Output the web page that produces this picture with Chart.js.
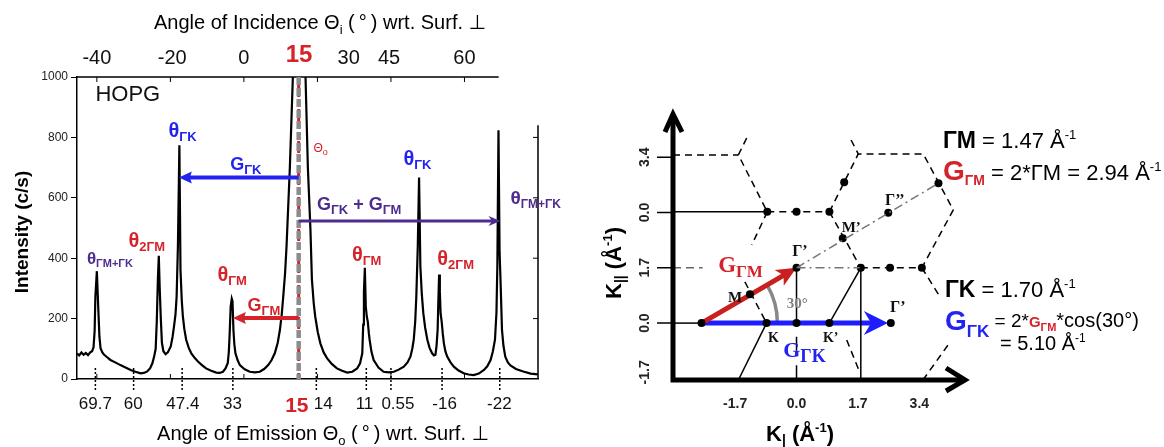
<!DOCTYPE html>
<html>
<head>
<meta charset="utf-8">
<script src="https://cdn.jsdelivr.net/npm/chart.js@4.4.1/dist/chart.umd.min.js"></script>
<style>
  html, body { margin: 0; padding: 0; background: #fff; }
  #wrap { position: relative; width: 1164px; height: 447px; overflow: hidden; }
  #left { position: absolute; left: 0; top: 0; }
  #right { position: absolute; left: 600px; top: 0; }
</style>
</head>
<body>
<div id="wrap">
  <canvas id="left" width="600" height="447"></canvas>
  <canvas id="right" width="564" height="447"></canvas>
</div>
<script>
// ---- spectrum (angle of incidence scale, counts/s) ----
const angleIn = [-45.4, -44.8, -44.2, -43.6, -43.0, -42.4, -41.8, -41.3, -40.9, -40.6, -40.4, -40.0, -39.6, -39.3, -39.0,
  -38.5, -38.0, -37.2, -36.3, -35.0, -33.6, -32.2, -30.8, -29.5, -28.1, -27.2, -26.3, -25.5, -24.9, -24.4, -24.0,
  -23.7, -23.4, -23.15, -22.9, -22.6, -22.3, -21.9, -21.3, -20.7, -19.9, -19.4, -19.0, -18.6, -18.3, -17.95, -17.55,
  -17.25, -16.9, -16.6, -16.2, -15.7, -15.0, -14.3, -13.4, -12.5, -11.4, -10.3, -8.9, -7.5, -6.6, -5.7, -5.0, -4.4,
  -4.1, -3.9, -3.6, -3.3, -3.1, -2.85, -2.6, -2.3, -1.7, -1.1, 0.2, 1.6, 3.0, 4.3, 5.5, 6.6, 7.5, 8.4, 9.2, 9.8, 10.3,
  10.7, 11.2, 11.6, 12.5, 13.4, 15.0, 16.7, 17.4, 18.1, 18.5, 19.0, 19.4, 20.1, 20.8, 21.7, 22.6, 23.9, 25.3, 26.7,
  28.1, 29.5, 30.8, 31.6, 32.2, 32.45, 32.65, 32.9, 33.15, 33.45, 33.7, 34.0, 34.2, 34.7, 35.3, 36.6, 38.0, 39.4,
  40.8, 42.1, 43.5, 44.5, 45.3, 45.8, 46.2, 46.6, 46.9, 47.3, 47.65, 48.0, 48.4, 48.8, 49.3, 49.9, 50.5, 51.2, 51.7,
  52.1, 52.4, 52.7, 52.9, 53.1, 53.3, 53.5, 53.8, 54.1, 54.4, 54.8, 55.3, 56.2, 57.1, 58.4, 59.8, 61.1, 62.5, 63.9,
  65.3, 66.2, 67.1, 67.7, 68.3, 68.7, 68.95, 69.25, 69.55, 69.8, 70.2, 70.6, 71.1, 71.8, 72.5, 74.0, 76.0, 78.0, 80.0];
const counts = [84, 78, 88, 80, 86, 79, 88, 92, 105, 160, 273, 357, 230, 140, 102,
  88, 80, 72, 63, 55, 46, 38, 30, 24, 19, 20, 25, 36, 52, 75, 100,
  190, 330, 408, 300, 200, 120, 92, 82, 88, 108, 140, 175, 215, 273, 440, 774,
  362, 260, 207, 165, 130, 103, 85, 70, 58, 46, 35, 27, 21, 20, 24, 35, 52,
  90, 141, 240, 266, 258, 163, 115, 85, 62, 46, 32, 24, 22, 24, 33, 46, 62, 85, 120, 163, 215,
  273, 350, 440, 700, 1030, 1500, 1030, 700, 495, 329, 250, 207, 155, 118, 88, 69, 50, 35, 27,
  21, 24, 35, 52, 85, 180, 290, 368, 240, 205, 190, 150, 130, 90, 63, 38, 24, 22,
  24, 31, 41, 55, 74, 100, 130, 190, 273, 440, 667, 373, 280, 218, 170, 130, 103, 85, 78,
  80, 110, 163, 260, 346, 290, 218, 190, 150, 118, 92, 74, 55, 41, 28, 19, 15, 13, 18,
  30, 42, 63, 90, 130, 220, 380, 824, 420, 329, 163, 110, 74, 55, 45, 33, 25, 18, 15];

const yTicks = [0, 200, 400, 600, 800, 1000];
const incLabelPos = [-40, -19.5, 0, 15, 28.5, 39.5, 60];
const incLabels = ['-40', '-20', '0', '15', '30', '45', '60'];
const frameTicks = [-40, -20, 0, 20, 40, 60];
const emiLabelPos = [-40.4, -30.1, -16.6, -3.1, 14.4, 21.6, 32.8, 41.9, 54.6, 69.5];
const emiLabels = ['69.7', '60', '47.4', '33', '15', '14', '11', '0.55', '-16', '-22'];
const emiLinePos = [-40.4, -30, -16.8, -3, 19.7, 33.3, 40, 53.9, 69.6];
const specular = 14.9;

// ---- reciprocal lattice (Å^-1) ----
const kxTicks = [-1.7, 0, 1.7, 3.4];
const kxLabels = ['-1.7', '0.0', '1.7', '3.4'];
const kyTicks = [-1.7, 0, 1.7, 3.4, 5.1];
const kyLabels = ['-1.7', '0.0', '1.7', '0.0', '3.4'];

const S = [-2.63, 0], M = [-1.29, 0.89], G1 = [0, 1.7], K = [-0.83, 0], O = [0, 0], K1 = [0.91, 0], G2 = [2.61, 0];
const V1 = [-0.81, 3.42], D1 = [0, 3.42], V2 = [0.91, 3.42], D2 = [1.32, 4.33], V3 = [1.71, 5.2], V4 = [3.51, 5.2];
const D3 = [3.93, 4.3], V5 = [4.34, 3.48], M1 = [1.28, 2.61], V6 = [1.78, 1.7], D4 = [2.59, 1.7], V7 = [3.47, 1.7];
const G3 = [2.54, 3.39], V8 = [-1.61, 5.17];
const X0 = -3.42, Y0 = -1.75;

const solidLines = [
  [[X0, 3.42], V1], [[X0, 0], S], [K, [-1.61, Y0]], [K1, V6], [V6, [1.78, Y0]], [G1, O],
  [[0, -0.42], [0, -0.85]], [[0, -1.3], [0, Y0]]
];
const dashedLines = [
  [[X0, 5.17], V8], [[-1.38, 5.69], V8, V1], [V1, V2], [V1, [-1.24, 2.4]], [[-1.43, 1.27], K],
  [V2, V3], [[1.51, 5.63], V3, V4, V5, V7], [V2, V6], [V6, V7], [V7, [3.97, 0.81]],
  [[4.19, -0.68], [3.5, Y0]], [[1.39, -0.52], [1.76, -1.54]]
];
const dashDotLines = [[G1, V6], [G1, D3]];
const grayDashLines = [[[X0, 1.7], [-2.6, 1.7]]];
const latticeDots = [S, M, G1, K, O, K1, G2, V1, D1, V2, D2, D3, M1, G3, V6, D4, V7];
const arcRadius = 2.1;
const blueTip = [2.53, 0];

const SANS = '"Liberation Sans", Arial, sans-serif';
const SERIF = '"Liberation Serif", "Times New Roman", serif';
const RED = '#d5232a', BLUE = '#2323f0', PURPLE = '#4d2c8d', GRAY = '#8c8c8c';

function fontOf(r) { return (r[2] || 'normal') + ' ' + r[1] + 'px ' + (r[5] || SANS); }
function runsWidth(ctx, runs) {
  let w = 0;
  runs.forEach(r => { ctx.font = fontOf(r); w += ctx.measureText(r[0]).width; });
  return w;
}
function drawRuns(ctx, x, y, runs) {
  ctx.textAlign = 'left';
  ctx.textBaseline = 'alphabetic';
  runs.forEach(r => {
    ctx.font = fontOf(r);
    ctx.fillStyle = r[3] || '#000';
    ctx.fillText(r[0], x, y + (r[4] || 0));
    x += ctx.measureText(r[0]).width;
  });
  return x;
}
function arrow(ctx, x1, y1, x2, y2, color, w, len, half, barb) {
  const ang = Math.atan2(y2 - y1, x2 - x1);
  const back = len * (1 - barb) - 1;
  ctx.save();
  ctx.strokeStyle = color; ctx.fillStyle = color; ctx.lineWidth = w; ctx.lineCap = 'butt';
  ctx.beginPath();
  ctx.moveTo(x1, y1);
  ctx.lineTo(x2 - Math.cos(ang) * back, y2 - Math.sin(ang) * back);
  ctx.stroke();
  ctx.translate(x2, y2); ctx.rotate(ang);
  ctx.beginPath();
  ctx.moveTo(0, 0); ctx.lineTo(-len, -half); ctx.lineTo(-len * (1 - barb), 0); ctx.lineTo(-len, half);
  ctx.closePath(); ctx.fill();
  ctx.restore();
}

// annotations of the spectrum (anchor = left/baseline in data units)
const leftNotes = [
  { at: [-40.4, 921], runs: [['HOPG', 22, 'normal', '#111']] },
  { at: [-42.7, 382], runs: [['θ', 17, 'bold', PURPLE], ['ΓM+ΓK', 11, 'bold', PURPLE, 3]] },
  { at: [-31.4, 438], runs: [['θ', 20, 'bold', RED], ['2ΓM', 13, 'bold', RED, 4]] },
  { at: [-20.5, 800], runs: [['θ', 20, 'bold', BLUE], ['ΓK', 13, 'bold', BLUE, 4]] },
  { at: [-7.2, 326], runs: [['θ', 20, 'bold', RED], ['ΓM', 13, 'bold', RED, 4]] },
  { at: [29.4, 392], runs: [['θ', 20, 'bold', RED], ['ΓM', 13, 'bold', RED, 4]] },
  { at: [43.4, 708], runs: [['θ', 20, 'bold', BLUE], ['ΓK', 13, 'bold', BLUE, 4]] },
  { at: [52.6, 379], runs: [['θ', 20, 'bold', RED], ['2ΓM', 13, 'bold', RED, 4]] },
  { at: [72.5, 578], runs: [['θ', 19, 'bold', PURPLE], ['ΓM+ΓK', 12, 'bold', PURPLE, 4]] },
  { at: [-3.7, 691], runs: [['G', 18, 'bold', BLUE], ['ΓK', 13, 'bold', BLUE, 4]] },
  { at: [1.0, 226], runs: [['G', 18, 'bold', RED], ['ΓM', 13, 'bold', RED, 4]] },
  { at: [19.9, 561], runs: [['G', 18, 'bold', PURPLE], ['ΓK', 13, 'bold', PURPLE, 4], [' + ', 18, 'bold', PURPLE],
    ['G', 18, 'bold', PURPLE], ['ΓM', 13, 'bold', PURPLE, 4]] },
  { at: [18.9, 751], runs: [['Θ', 12, 'normal', RED], ['o', 9, 'normal', RED, 3]] }
];
const leftArrows = [
  { from: [specular, 667], to: [-17.7, 667], color: BLUE, w: 4, len: 13, half: 6, barb: 0.15 },
  { from: [specular, 523], to: [69.8, 523], color: PURPLE, w: 3, len: 12, half: 5, barb: 0.3 },
  { from: [specular, 202], to: [-3.0, 202], color: RED, w: 4, len: 13, half: 6, barb: 0.15 }
];

const leftDecor = {
  id: 'leftDecor',
  afterDatasetsDraw(chart) {
    const { ctx, chartArea: a, scales: { x, y } } = chart;
    ctx.save();
    // partial top / right frame and inward ticks
    ctx.strokeStyle = '#000'; ctx.lineWidth = 1.5;
    ctx.beginPath();
    ctx.moveTo(a.left, a.top); ctx.lineTo(x.getPixelForValue(69.3), a.top);
    ctx.moveTo(a.right, y.getPixelForValue(840)); ctx.lineTo(a.right, a.bottom);
    ctx.stroke();
    ctx.lineWidth = 1;
    ctx.beginPath();
    frameTicks.forEach(v => {
      const px = x.getPixelForValue(v);
      ctx.moveTo(px, a.top); ctx.lineTo(px, a.top + 5);
      ctx.moveTo(px, a.bottom); ctx.lineTo(px, a.bottom - 5);
    });
    [200, 400, 600, 800].forEach(v => {
      const py = y.getPixelForValue(v);
      ctx.moveTo(a.right, py); ctx.lineTo(a.right - 5, py);
    });
    ctx.stroke();
    // dotted markers below peaks
    ctx.setLineDash([2, 2]); ctx.lineWidth = 1.5;
    ctx.beginPath();
    emiLinePos.forEach(v => {
      const px = x.getPixelForValue(v);
      ctx.moveTo(px, a.bottom - 11); ctx.lineTo(px, a.bottom + 11);
    });
    ctx.stroke();
    // specular line
    const sx = x.getPixelForValue(specular);
    ctx.setLineDash([4, 4]); ctx.strokeStyle = RED; ctx.lineWidth = 3;
    ctx.beginPath(); ctx.moveTo(sx, a.top); ctx.lineTo(sx, a.bottom); ctx.stroke();
    ctx.setLineDash([8, 3]); ctx.strokeStyle = GRAY; ctx.lineWidth = 4.5;
    ctx.beginPath(); ctx.moveTo(sx, a.top); ctx.lineTo(sx, a.bottom); ctx.stroke();
    ctx.setLineDash([]);
    leftArrows.forEach(r => arrow(ctx, x.getPixelForValue(r.from[0]), y.getPixelForValue(r.from[1]),
      x.getPixelForValue(r.to[0]), y.getPixelForValue(r.to[1]), r.color, r.w, r.len, r.half, r.barb));
    leftNotes.forEach(n => drawRuns(ctx, x.getPixelForValue(n.at[0]), y.getPixelForValue(n.at[1]), n.runs));
    ctx.restore();
  },
  afterDraw(chart) {
    const { ctx } = chart;
    ctx.save();
    const top = [['Angle of Incidence ', 20], ['Θ', 20], ['i', 13, 'normal', '#000', 5], [' (\u2009°\u2009) wrt. Surf. ', 20], ['⊥', 20, 'normal', '#000', 0, '"DejaVu Sans"']];
    drawRuns(ctx, 320 - runsWidth(ctx, top) / 2, 29, top);
    const bot = [['Angle of Emission ', 20], ['Θ', 20], ['o', 13, 'normal', '#000', 5], [' (\u2009°\u2009) wrt. Surf. ', 20], ['⊥', 20, 'normal', '#000', 0, '"DejaVu Sans"']];
    drawRuns(ctx, 323 - runsWidth(ctx, bot) / 2, 440, bot);
    const yt = [['Intensity (c/s)', 19, 'bold']];
    ctx.translate(28, 232); ctx.rotate(-Math.PI / 2);
    drawRuns(ctx, -runsWidth(ctx, yt) / 2, 0, yt);
    ctx.restore();
  }
};

new Chart(document.getElementById('left'), {
  type: 'line',
  data: {
    datasets: [{
      data: angleIn.map((a, i) => ({ x: a, y: counts[i] })),
      borderColor: '#000', borderWidth: 2.2, pointRadius: 0, tension: 0
    }]
  },
  options: {
    responsive: false, animation: false, events: [],
    layout: { padding: { left: 0, right: 62, top: 0, bottom: 0 } },
    plugins: { legend: { display: false }, tooltip: { enabled: false } },
    scales: {
      x: {
        type: 'linear', position: 'bottom', min: -45.4, max: 80,
        afterFit: s => { s.height = 68; },
        afterBuildTicks: s => { s.ticks = emiLabelPos.map(v => ({ value: v })); },
        grid: { display: false, drawTicks: false },
        border: { display: true, color: '#000', width: 1.5 },
        ticks: {
          autoSkip: false, maxRotation: 0, padding: 15,
          callback: (v, i) => emiLabels[i],
          color: c => c.index === 4 ? RED : '#111',
          font: c => c.index === 4 ? { family: SANS, size: 21, weight: 'bold' } : { family: SANS, size: 17 }
        }
      },
      x2: {
        type: 'linear', position: 'top', min: -45.4, max: 80,
        afterFit: s => { s.height = 77; },
        afterBuildTicks: s => { s.ticks = incLabelPos.map(v => ({ value: v })); },
        grid: { display: false, drawTicks: false },
        border: { display: false },
        ticks: {
          autoSkip: false, maxRotation: 0, padding: 7,
          callback: (v, i) => incLabels[i],
          color: c => c.index === 3 ? RED : '#111',
          font: c => c.index === 3 ? { family: SANS, size: 24, weight: 'bold' } : { family: SANS, size: 20 }
        }
      },
      y: {
        min: 0, max: 1000,
        afterFit: s => { s.width = 77; },
        afterBuildTicks: s => { s.ticks = yTicks.map(v => ({ value: v })); },
        grid: { drawOnChartArea: false, tickLength: 6, color: '#000' },
        border: { color: '#000', width: 1.5 },
        ticks: { padding: 3, callback: v => String(v), font: { family: SANS, size: 12 }, color: '#222' }
      }
    }
  },
  plugins: [leftDecor]
});

// ---- right panel ----
const pts = line => line.map(p => ({ x: p[0], y: p[1] }));
const segSets = [];
solidLines.forEach(l => segSets.push({ data: pts(l), showLine: true, borderColor: '#000', borderWidth: 1.5, pointRadius: 0 }));
dashedLines.forEach(l => segSets.push({ data: pts(l), showLine: true, borderColor: '#000', borderWidth: 1.5, borderDash: [7, 5], pointRadius: 0 }));
dashDotLines.forEach(l => segSets.push({ data: pts(l), showLine: true, borderColor: '#777', borderWidth: 1.5, borderDash: [9, 4, 2, 4], pointRadius: 0 }));
grayDashLines.forEach(l => segSets.push({ data: pts(l), showLine: true, borderColor: '#666', borderWidth: 1.5, borderDash: [8, 5], pointRadius: 0 }));
const dotIndex = segSets.length;
segSets.push({ data: pts(latticeDots), showLine: false, pointRadius: 4, pointBackgroundColor: '#000', pointBorderWidth: 0 });

const rightNotes = [
  { at: [-2.17, 1.58], runs: [['G', 23, 'bold', RED, 0, SERIF], ['ΓM', 17, 'bold', RED, 5, SERIF]] },
  { at: [-0.37, -1.04], runs: [['G', 22, 'bold', BLUE, 0, SERIF], ['ΓK', 18, 'bold', BLUE, 5, SERIF]] },
  { at: [-0.12, 2.06], runs: [['Γ’', 16, 'bold', '#111', 0, SERIF]] },
  { at: [-1.9, 0.66], runs: [['M', 15, 'bold', '#111', 0, SERIF]] },
  { at: [-0.79, -0.58], runs: [['K', 14, 'bold', '#111', 0, SERIF]] },
  { at: [0.73, -0.58], runs: [['K’', 14, 'bold', '#111', 0, SERIF]] },
  { at: [2.59, 0.35], runs: [['Γ’', 16, 'bold', '#111', 0, SERIF]] },
  { at: [1.25, 2.81], runs: [['M’', 15, 'bold', '#111', 0, SERIF]] },
  { at: [2.45, 3.63], runs: [['Γ’’', 16, 'bold', '#111', 0, SERIF]] },
  { at: [-0.27, 0.46], runs: [['30°', 15, 'bold', '#808080', 0, SERIF]] }
];
const sideText = [
  { at: [343, 148], runs: [['ΓM', 23, 'bold'], [' = 1.47 Å', 22], ['-1', 13, 'normal', '#000', -9]] },
  { at: [343, 180], runs: [['G', 28, 'bold', RED], ['ΓM', 14, 'bold', RED, 5], [' = 2*ΓM = 2.94 Å', 22], ['-1', 13, 'normal', '#000', -9]] },
  { at: [345, 297], runs: [['ΓK', 23, 'bold'], [' = 1.70 Å', 22], ['-1', 13, 'normal', '#000', -9]] },
  { at: [345, 330], runs: [['G', 28, 'bold', BLUE], ['ΓK', 17, 'bold', BLUE, 7], [' = 2*', 19, 'normal', '#000', -3],
    ['G', 15, 'bold', RED, -3], ['ΓM', 11, 'bold', RED, 1], ['*cos(30°)', 20, 'normal', '#000', -3]] },
  { at: [400, 350], runs: [['= 5.10 Å', 20], ['-1', 12, 'normal', '#000', -8]] }
];

const rightDecor = {
  id: 'rightDecor',
  beforeDatasetDraw(chart, args) {
    if (args.index !== dotIndex) return;
    const { ctx, scales: { x, y } } = chart;
    const px = p => [x.getPixelForValue(p[0]), y.getPixelForValue(p[1])];
    const s = px(S), g = px(G1), b = px(blueTip);
    ctx.save();
    // 30 degree arc
    const r = x.getPixelForValue(S[0] + arcRadius) - s[0];
    const ang = Math.atan2(g[1] - s[1], g[0] - s[0]);
    ctx.strokeStyle = '#888'; ctx.lineWidth = 3.5;
    ctx.beginPath(); ctx.arc(s[0], s[1], r, ang, 0); ctx.stroke();
    arrow(ctx, s[0], s[1], b[0], b[1], '#1d1dff', 5, 24, 12, 0.3);
    arrow(ctx, s[0], s[1], g[0], g[1], '#c91f1f', 5, 20, 9, 0.25);
    ctx.restore();
  },
  afterDatasetsDraw(chart) {
    const { ctx, chartArea: a, scales: { x, y } } = chart;
    ctx.save();
    // axes with open arrow heads
    ctx.strokeStyle = '#000'; ctx.lineWidth = 5; ctx.lineJoin = 'miter'; ctx.lineCap = 'butt';
    ctx.beginPath();
    ctx.moveTo(a.left, a.bottom + 2.5); ctx.lineTo(a.left, a.top + 2);
    ctx.moveTo(a.left - 2.5, a.bottom); ctx.lineTo(a.right - 2, a.bottom);
    ctx.stroke();
    ctx.beginPath();
    ctx.moveTo(a.left - 8, a.top + 20); ctx.lineTo(a.left, a.top + 2); ctx.lineTo(a.left + 9, a.top + 20);
    ctx.moveTo(a.right - 21, a.bottom - 12); ctx.lineTo(a.right - 2, a.bottom); ctx.lineTo(a.right - 21, a.bottom + 11);
    ctx.stroke();
    // outward y tick marks
    ctx.lineWidth = 1.5;
    ctx.beginPath();
    kyTicks.slice(1).forEach(v => {
      const py = y.getPixelForValue(v);
      ctx.moveTo(a.left - 16, py); ctx.lineTo(a.left, py);
    });
    ctx.stroke();
    rightNotes.forEach(n => drawRuns(ctx, x.getPixelForValue(n.at[0]), y.getPixelForValue(n.at[1]), n.runs));
    sideText.forEach(n => drawRuns(ctx, n.at[0], n.at[1], n.runs));
    // rotated y tick labels
    ctx.font = 'bold 14px ' + SANS; ctx.fillStyle = '#222'; ctx.textAlign = 'center'; ctx.textBaseline = 'middle';
    kyTicks.forEach((v, i) => {
      const py = i === 0 ? y.getPixelForValue(v) - 6 : y.getPixelForValue(v);
      ctx.save(); ctx.translate(45, py); ctx.rotate(-Math.PI / 2);
      ctx.fillText(kyLabels[i], 0, 0); ctx.restore();
    });
    // axis titles
    const xt = [['K', 22, 'bold'], ['|', 14, 'bold', '#000', 4], [' (Å', 22, 'bold'], ['-1', 13, 'bold', '#000', -9], [')', 22, 'bold']];
    drawRuns(ctx, 200 - runsWidth(ctx, xt) / 2, 441, xt);
    const yt = [['K', 22, 'bold'], ['||', 14, 'bold', '#000', 4], [' (Å', 22, 'bold'], ['-1', 13, 'bold', '#000', -9], [')', 22, 'bold']];
    ctx.translate(21, 263); ctx.rotate(-Math.PI / 2);
    drawRuns(ctx, -runsWidth(ctx, yt) / 2, 0, yt);
    ctx.restore();
  }
};

new Chart(document.getElementById('right'), {
  type: 'scatter',
  data: { datasets: segSets },
  options: {
    responsive: false, animation: false, events: [],
    layout: { padding: { left: 0, right: 197, top: 112, bottom: 0 } },
    plugins: { legend: { display: false }, tooltip: { enabled: false } },
    scales: {
      x: {
        type: 'linear', min: X0, max: 4.72,
        afterFit: s => { s.height = 67; },
        afterBuildTicks: s => { s.ticks = kxTicks.map(v => ({ value: v })); },
        grid: { display: false, drawTicks: false },
        border: { display: false },
        ticks: { autoSkip: false, maxRotation: 0, padding: 16, callback: (v, i) => kxLabels[i],
          font: { family: SANS, size: 14, weight: 'bold' }, color: '#222' }
      },
      y: {
        type: 'linear', min: Y0, max: 6.49,
        afterFit: s => { s.width = 73; },
        afterBuildTicks: s => { s.ticks = kyTicks.map(v => ({ value: v })); },
        grid: { display: false, drawTicks: false },
        border: { display: false },
        ticks: { display: false }
      }
    }
  },
  plugins: [rightDecor]
});
</script>
</body>
</html>
